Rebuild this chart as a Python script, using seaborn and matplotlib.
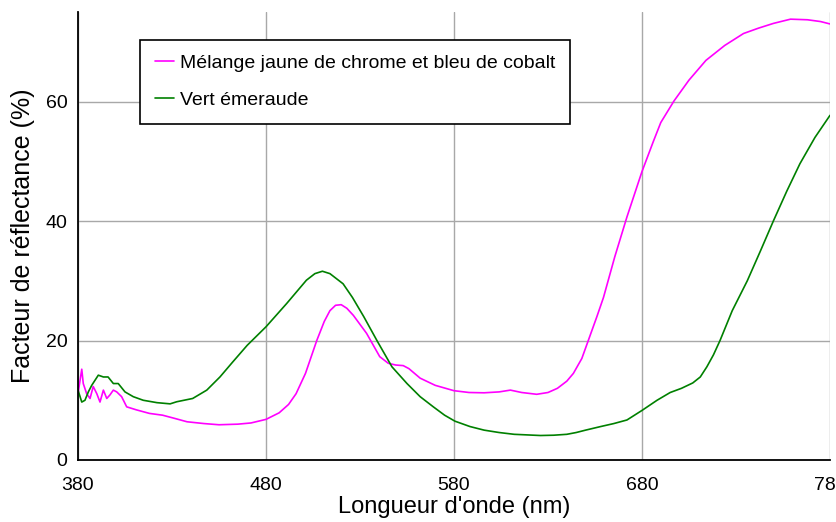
import numpy as np
import pandas as pd
import matplotlib
matplotlib.use('Agg')
import matplotlib.pyplot as plt
import seaborn as sns

# Mélange jaune de chrome et bleu de cobalt
wl_melange = [380, 382, 382.8, 384.6, 386.4, 388.1, 390, 391.7, 393.5, 395.3, 397, 398.8,
              400.6, 403.2, 405.9, 411, 418, 425, 431, 438, 447, 455, 465, 472, 480, 487,
              492, 496, 501, 507, 511, 514, 517, 520, 523, 526.5, 533.5, 540.5, 545, 549,
              553, 556, 562, 570, 580, 588, 596, 604, 610, 616, 624, 630, 635, 640, 643.5,
              648, 652, 656, 659.5, 665.5, 672, 680, 686, 690, 697, 705, 714, 724, 734,
              742, 750, 759, 768, 775, 780]
refl_melange = [11.1, 15.2, 12.8, 11.1, 10.3, 12.3, 11.1, 9.7, 11.7, 10.3, 10.9, 11.7,
                11.4, 10.6, 8.9, 8.4, 7.8, 7.5, 7.0, 6.4, 6.1, 5.9, 6.0, 6.2, 6.8, 7.9,
                9.3, 11.1, 14.5, 20.0, 23.2, 25.0, 25.9, 26.0, 25.4, 24.2, 21.2, 17.3, 16.2, 15.9,
                15.8, 15.3, 13.7, 12.5, 11.6, 11.3, 11.25, 11.4, 11.7, 11.3, 11.0, 11.3, 12.0, 13.2, 14.5,
                17.0, 20.5, 24.0, 27.2, 34.0, 40.7, 48.3, 53.3, 56.5, 60.1, 63.6, 66.9, 69.4, 71.4,
                72.3, 73.1, 73.8, 73.7, 73.4, 73.0]

# Vert émeraude
wl_vert = [380, 382, 383.7, 385.5, 387.3, 390.8, 393.5, 396, 398.8, 401.4, 405, 409.4,
           414.7, 422, 429, 432.5, 441, 448.5, 455.5, 462, 470, 480, 491, 501.5, 506, 510,
           514, 521, 526, 532, 539, 547, 555, 562, 569, 575, 580.5, 588.5, 596, 604, 612,
           626, 633, 640, 645, 650, 658, 665, 672, 680, 688, 695, 701, 707, 711, 714.5, 718,
           721.5, 728, 736, 743, 750, 757, 764, 772, 780]
refl_vert = [11.7, 9.7, 10.0, 11.4, 12.5, 14.2, 13.9, 13.9, 12.8, 12.8, 11.4, 10.6,
             10.0, 9.6, 9.4, 9.75, 10.3, 11.7, 13.9, 16.3, 19.2, 22.3, 26.2, 30.1, 31.2, 31.6,
             31.2, 29.5, 27.2, 24.0, 20.0, 15.6, 12.8, 10.6, 8.9, 7.5, 6.5, 5.6, 5.0, 4.6, 4.3,
             4.1, 4.15, 4.3, 4.6, 5.0, 5.6, 6.1, 6.7, 8.3, 10.0, 11.3, 12.0, 12.9, 13.9, 15.6, 17.6,
             20.0, 25.0, 30.0, 35.0, 40.1, 45.0, 49.6, 54.0, 57.7]

labels = ['Mélange jaune de chrome et bleu de cobalt', 'Vert émeraude']
colors = ['#ff00ff', '#008000']
xticks = [380, 480, 580, 680, 780]
yticks = [0, 20, 40, 60]

df = pd.concat([
    pd.DataFrame({'wl': wl_melange, 'r': refl_melange, 'serie': labels[0]}),
    pd.DataFrame({'wl': wl_vert, 'r': refl_vert, 'serie': labels[1]}),
])

sns.set_style('white')
plt.rcParams['font.family'] = ['Liberation Sans', 'DejaVu Sans']
plt.rcParams['text.color'] = 'black'
plt.rcParams['axes.labelcolor'] = 'black'

fig = plt.figure(figsize=(8.37, 5.22), dpi=100)
ax = fig.add_axes([78/837, 62/522, 752/837, 448/522])
sns.lineplot(data=df, x='wl', y='r', hue='serie', palette=colors, estimator=None,
             linewidth=1.2, ax=ax)

ax.set_xlim(380, 780)
ax.set_ylim(0, 75)
ax.set_xticks(xticks)
ax.set_yticks(yticks)
ax.grid(True, color='#a8a8a8', linewidth=1.0)
ax.set_axisbelow(True)
for s in ['top', 'right']:
    ax.spines[s].set_visible(False)
for s in ['left', 'bottom']:
    ax.spines[s].set_color('black')
    ax.spines[s].set_linewidth(1.3)
ax.tick_params(axis='both', direction='inout', length=8, width=1.2, colors='black',
               labelsize=14)
ax.tick_params(axis='x', pad=8)

ax.set_xlabel("Longueur d'onde (nm)", fontsize=17, labelpad=2)
ax.set_ylabel('Facteur de réflectance (%)', fontsize=18, labelpad=8)

leg = ax.legend(loc='upper left', bbox_to_anchor=(62/752, (460-40)/448), borderaxespad=0,
                fontsize=14, frameon=True, fancybox=False, edgecolor='black',
                handlelength=1.0, handletextpad=0.3, labelspacing=1.0, borderpad=0.75,
                title=None)
leg.get_frame().set_linewidth(1.2)
leg.get_frame().set_alpha(1)
for t in leg.get_texts():
    t.set_color('black')

fig.savefig('out.png', dpi=100)
